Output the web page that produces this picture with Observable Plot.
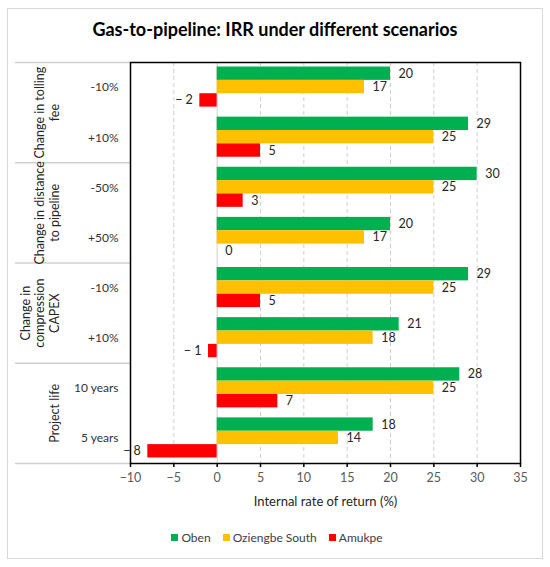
<!DOCTYPE html>
<html><head><meta charset="utf-8">
<script src="https://cdn.jsdelivr.net/npm/d3@7"></script>
<script src="https://cdn.jsdelivr.net/npm/@observablehq/plot@0.6"></script>
<style>
body{margin:0;background:#fff;font-family:Lato,"Open Sans",sans-serif;}
#fig{position:relative;width:550px;height:567px;overflow:hidden}
#border{position:absolute;left:7px;top:8px;width:536px;height:551px;border:1.5px solid #d9d9d9;box-sizing:border-box}
#title{position:absolute;top:18px;left:0;width:550px;text-align:center;font-weight:bold;font-size:18px;color:#000}
#chart{position:absolute;left:0;top:45px}
#legend{position:absolute;top:530px;left:0;width:554px;display:flex;justify-content:center;gap:12px;font-size:12px;color:#404040}
#legend span.sw{display:inline-block;width:7px;height:7px;margin-right:3px;vertical-align:1px}
</style></head>
<body>
<div id="fig">
  <div id="border"></div>
  <div id="title">Gas-to-pipeline: IRR under different scenarios</div>
  <div id="chart"></div>
  <div id="legend"></div>
</div>
<script>
const groups = ["Change in tolling\nfee", "Change in distance\nto pipeline", "Change in\ncompression\nCAPEX", "Project life"];
const scenarios = ["-10%", "+10%", "-50%", "+50%", "-10%", "+10%", "10 years", "5 years"];
const series = ["Oben", "Oziengbe South", "Amukpe"];
const colors = ["#00B050", "#FFC000", "#FF0000"];
const oben = [20, 29, 30, 20, 29, 21, 28, 18];
const oziengbe = [17, 25, 25, 17, 25, 18, 25, 14];
const amukpe = [-2, 5, 3, 0, 5, -1, 7, -8];
const xTicks = [-10, -5, 0, 5, 10, 15, 20, 25, 30, 35];
const xLabel = "Internal rate of return (%)";

const seriesValues = [oben, oziengbe, amukpe];
const perGroup = scenarios.length / groups.length;
const padTop = 0.09, barH = 0.8 / 3;
const rows = [];
scenarios.forEach((s, k) => {
  series.forEach((name, i) => {
    const y1 = k + padTop + i * barH;
    rows.push({k, series: name, value: seriesValues[i][k], y1, y2: y1 + barH});
  });
});
const fmt = v => v < 0 ? "\u2212 " + Math.abs(v) : String(v);
const bounds = d3.range(groups.length + 1).map(g => g * perGroup);

const plot = Plot.plot({
  width: 550, height: 478,
  marginLeft: 130, marginRight: 30, marginTop: 17, marginBottom: 60,
  style: {fontFamily: "Lato, 'Open Sans', sans-serif", fontSize: "12px", background: "transparent"},
  x: {domain: [-10, 35]},
  y: {domain: [scenarios.length, 0]},
  color: {domain: series, range: colors},
  marks: [
    Plot.ruleX(xTicks.filter(t => t !== 0 && t !== -10 && t !== 35), {stroke: "#cfcfcf", strokeDasharray: "4,3", strokeWidth: 1}),
    Plot.ruleX([0], {stroke: "#cfcfcf", strokeWidth: 1}),
    Plot.rectX(rows, {x1: 0, x2: "value", y1: "y1", y2: "y2", fill: "series"}),
    Plot.text(rows.filter(d => d.value >= 0), {x: "value", y: d => (d.y1 + d.y2) / 2, text: d => fmt(d.value), textAnchor: "start", dx: 8, fill: "#262626", fontSize: 12.5}),
    Plot.text(rows.filter(d => d.value < 0), {x: "value", y: d => (d.y1 + d.y2) / 2, text: d => fmt(d.value), textAnchor: "end", dx: -7, fill: "#262626", fontSize: 12.5}),
    Plot.ruleY(bounds, {y: d => d, x1: -10, x2: -10, insetLeft: -115, stroke: "#d0d0d0", strokeWidth: 1.5}),
    Plot.text(groups, {x: -10, y: (d, g) => g * perGroup + perGroup / 2, text: d => d, rotate: -90, dx: -72, lineAnchor: "bottom", textAnchor: "middle", fill: "#262626", fontSize: 12.5, lineHeight: 1.15}),
    Plot.axisY(scenarios.map((s, k) => k + 0.5), {tickFormat: d => scenarios[Math.floor(d)], tickSize: 0, tickPadding: 12, fill: "#333", fontSize: 12, label: null}),
    Plot.axisX(xTicks, {tickSize: 4, stroke: "black", strokeWidth: 1.5, tickPadding: 6, fill: "#595959", fontSize: 12.5, label: xLabel, labelAnchor: "center", labelArrow: "none", labelOffset: 42}),
    Plot.frame({stroke: "black", strokeWidth: 1.5})
  ]
});
document.getElementById("chart").appendChild(plot);
d3.select(plot).selectAll("[aria-label='x-axis label'] text").attr("fill", "#262626").style("font-size", "13px");

const legend = d3.select("#legend");
series.forEach((s, i) => {
  const item = legend.append("div");
  item.append("span").attr("class", "sw").style("background", colors[i]);
  item.append("span").text(s);
});
</script>
</body></html>
